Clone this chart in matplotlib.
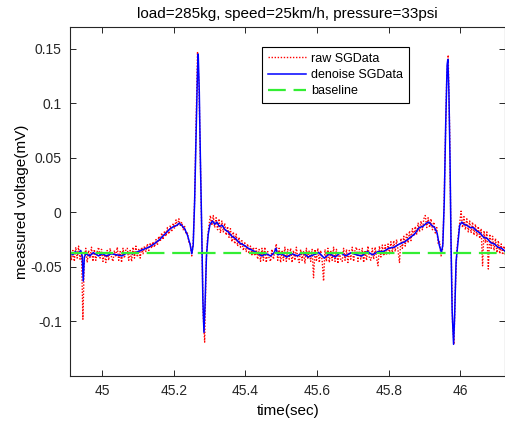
import numpy as np
import matplotlib
matplotlib.use("Agg")
import matplotlib.pyplot as plt

plt.rcParams['font.family'] = ['Liberation Sans', 'DejaVu Sans']

title = "load=285kg, speed=25km/h, pressure=33psi"
xlabel = "time(sec)"
ylabel = "measured voltage(mV)"
legend_labels = ["raw SGData", "denoise SGData", "baseline"]

# denoised signal breakpoints
den_t = [44.910, 44.918, 44.925, 44.932, 44.940, 44.944, 44.947, 44.950, 44.955, 44.965,
         44.975, 44.990, 45.000, 45.012, 45.025, 45.040, 45.055, 45.070, 45.085, 45.100,
         45.115, 45.130, 45.145, 45.160, 45.175, 45.190, 45.200, 45.208, 45.215, 45.222,
         45.230, 45.238, 45.245, 45.250, 45.254, 45.258, 45.262, 45.266, 45.268, 45.271,
         45.274, 45.278, 45.281, 45.284, 45.287, 45.291, 45.296, 45.301, 45.308, 45.314,
         45.320, 45.327, 45.335, 45.343, 45.352, 45.362, 45.372, 45.383, 45.395, 45.408,
         45.420, 45.432, 45.445, 45.458, 45.470, 45.480, 45.485, 45.490, 45.500, 45.515,
         45.530, 45.545, 45.560, 45.575, 45.590, 45.605, 45.620, 45.635, 45.650, 45.665,
         45.680, 45.695, 45.710, 45.725, 45.740, 45.755, 45.770, 45.785, 45.800, 45.815,
         45.830, 45.845, 45.860, 45.872, 45.885, 45.895, 45.905, 45.912, 45.920, 45.928,
         45.935, 45.941, 45.947, 45.951, 45.955, 45.959, 45.963, 45.965, 45.968, 45.971,
         45.974, 45.977, 45.981, 45.984, 45.988, 45.993, 45.998, 46.004, 46.010, 46.018,
         46.027, 46.036, 46.045, 46.055, 46.065, 46.075, 46.085, 46.095, 46.105, 46.115,
         46.126]
den_v = [-0.037, -0.039, -0.036, -0.038, -0.035, -0.040, -0.063, -0.041, -0.038, -0.040,
         -0.037, -0.040, -0.038, -0.040, -0.038, -0.039, -0.040, -0.037, -0.038, -0.036,
         -0.034, -0.032, -0.029, -0.025, -0.020, -0.015, -0.013, -0.012, -0.010, -0.012,
         -0.015, -0.021, -0.029, -0.038, -0.030, 0.010, 0.070, 0.130, 0.145, 0.110,
         0.050, -0.020, -0.080, -0.110, -0.085, -0.040, -0.020, -0.011, -0.008, -0.011,
         -0.009, -0.013, -0.012, -0.016, -0.018, -0.022, -0.024, -0.028, -0.030, -0.033,
         -0.035, -0.037, -0.040, -0.038, -0.040, -0.037, -0.033, -0.039, -0.038, -0.041,
         -0.038, -0.040, -0.037, -0.041, -0.039, -0.037, -0.042, -0.038, -0.041, -0.037,
         -0.040, -0.037, -0.039, -0.040, -0.036, -0.039, -0.036, -0.036, -0.033, -0.032,
         -0.029, -0.027, -0.023, -0.020, -0.014, -0.013, -0.010, -0.009, -0.012, -0.014,
         -0.019, -0.030, -0.037, -0.030, 0.010, 0.080, 0.135, 0.140, 0.110, 0.050,
         -0.030, -0.090, -0.121, -0.095, -0.045, -0.028, -0.012, -0.009, -0.011, -0.012,
         -0.014, -0.014, -0.017, -0.019, -0.023, -0.024, -0.028, -0.029, -0.032, -0.033,
         -0.036]

# raw signal, sampled every 4 ms from 44.910 s
raw_start = 44.910
raw_step = 0.004
raw_v = [
    -0.033, -0.044, -0.035, -0.045, -0.032, -0.042, -0.031, -0.043, -0.036, -0.098,
    -0.043, -0.033, -0.046, -0.035, -0.042, -0.032, -0.045, -0.034, -0.044, -0.036,
    -0.032, -0.042, -0.034, -0.045, -0.037, -0.046, -0.035, -0.044, -0.033, -0.041,
    -0.045, -0.035, -0.041, -0.032, -0.044, -0.036, -0.046, -0.033, -0.042, -0.034,
    -0.033, -0.044, -0.035, -0.045, -0.032, -0.042, -0.031, -0.041, -0.034, -0.042,
    -0.032, -0.038, -0.031, -0.036, -0.029, -0.035, -0.028, -0.033, -0.027, -0.032,
    -0.025, -0.030, -0.022, -0.027, -0.019, -0.025, -0.017, -0.022, -0.014, -0.020,
    -0.012, -0.018, -0.010, -0.015, -0.007, -0.013, -0.006, -0.012, -0.009, -0.016,
    -0.013, -0.020, -0.019, -0.028, -0.029, -0.040, -0.028, 0.012, 0.080, 0.147,
    0.118, 0.050, -0.022, -0.095, -0.119, -0.048, -0.024, -0.012, -0.003, -0.012,
    -0.003, -0.014, -0.005, -0.016, -0.006, -0.019, -0.008, -0.018, -0.010, -0.021,
    -0.013, -0.023, -0.015, -0.027, -0.018, -0.029, -0.020, -0.031, -0.023, -0.032,
    -0.026, -0.035, -0.028, -0.036, -0.029, -0.038, -0.031, -0.039, -0.032, -0.040,
    -0.033, -0.043, -0.034, -0.045, -0.033, -0.044, -0.032, -0.046, -0.036, -0.042,
    -0.045, -0.034, -0.043, -0.035, -0.029, -0.044, -0.033, -0.046, -0.035, -0.044,
    -0.032, -0.045, -0.034, -0.043, -0.033, -0.046, -0.035, -0.044, -0.032, -0.042,
    -0.046, -0.034, -0.044, -0.036, -0.047, -0.033, -0.043, -0.035, -0.045, -0.034,
    -0.060, -0.034, -0.045, -0.033, -0.046, -0.035, -0.044, -0.063, -0.034, -0.045,
    -0.033, -0.046, -0.035, -0.044, -0.032, -0.045, -0.034, -0.047, -0.036, -0.043,
    -0.045, -0.033, -0.044, -0.034, -0.046, -0.035, -0.043, -0.032, -0.045, -0.034,
    -0.032, -0.045, -0.034, -0.043, -0.033, -0.046, -0.035, -0.044, -0.031, -0.042,
    -0.044, -0.033, -0.043, -0.032, -0.042, -0.049, -0.031, -0.041, -0.030, -0.040,
    -0.030, -0.039, -0.029, -0.038, -0.027, -0.037, -0.026, -0.036, -0.025, -0.035,
    -0.046, -0.024, -0.033, -0.022, -0.031, -0.019, -0.028, -0.017, -0.026, -0.015,
    -0.022, -0.013, -0.020, -0.010, -0.018, -0.008, -0.016, -0.006, -0.003, -0.014,
    -0.005, -0.014, -0.006, -0.016, -0.009, -0.019, -0.014, -0.029, -0.027, -0.040,
    -0.034, 0.000, 0.065, 0.125, 0.144, 0.075, -0.030, -0.100, -0.121, -0.070,
    -0.036, -0.022, -0.010, 0.001, -0.014, -0.004, -0.016, -0.006, -0.018, -0.008,
    -0.019, -0.009, -0.021, -0.011, -0.022, -0.013, -0.024, -0.015, -0.049, -0.017,
    -0.028, -0.018, -0.052, -0.020, -0.033, -0.022, -0.035, -0.024, -0.037, -0.026,
    -0.038, -0.029, -0.039, -0.031, -0.040]

baseline_value = -0.0377

x_limits = (44.91, 46.126)
y_limits = (-0.15, 0.17)
x_ticks = [45, 45.2, 45.4, 45.6, 45.8, 46]
x_ticklabels = ["45", "45.2", "45.4", "45.6", "45.8", "46"]
y_ticks = [-0.1, -0.05, 0, 0.05, 0.1, 0.15]
y_ticklabels = ["-0.1", "-0.05", "0", "0.05", "0.1", "0.15"]

raw_t = raw_start + raw_step * np.arange(len(raw_v))

fig = plt.figure(figsize=(5.06, 4.23), dpi=100)
ax = fig.add_axes([70 / 506, 1 - 376 / 423, 435.5 / 506, 349.3 / 423])

ax.plot(raw_t, raw_v, color='#ff0000', linestyle=(0, (1, 1.2)), linewidth=1.0,
        label=legend_labels[0])
ax.plot(den_t, den_v, color='#0000ff', linestyle='-', linewidth=1.1, label=legend_labels[1])
ax.plot(x_limits, [baseline_value, baseline_value], color='#33ee33', linestyle=(0, (8, 3.5)),
        linewidth=1.6, label=legend_labels[2])

ax.set_xlim(*x_limits)
ax.set_ylim(*y_limits)
ax.set_xticks(x_ticks)
ax.set_xticklabels(x_ticklabels)
ax.set_yticks(y_ticks)
ax.set_yticklabels(y_ticklabels)
ax.tick_params(direction='in', top=True, right=True, length=4, width=0.7,
               labelsize=10, colors='#262626', pad=6)
for s in ax.spines.values():
    s.set_linewidth(0.8)
    s.set_color('#262626')

ax.set_title(title, fontsize=11, color='#000000', pad=6)
ax.set_xlabel(xlabel, fontsize=11, color='#000000', labelpad=4)
ax.set_ylabel(ylabel, fontsize=11, color='#000000', labelpad=1)

leg = ax.legend(loc='upper left', bbox_to_anchor=(0.441, 0.942), fontsize=9,
                frameon=True, fancybox=False, edgecolor='#000000', framealpha=1,
                handlelength=3.1, borderpad=0.45, labelspacing=0.35, handletextpad=0.4,
                borderaxespad=0)
leg.get_frame().set_linewidth(0.8)

fig.savefig("out.png", dpi=100)
